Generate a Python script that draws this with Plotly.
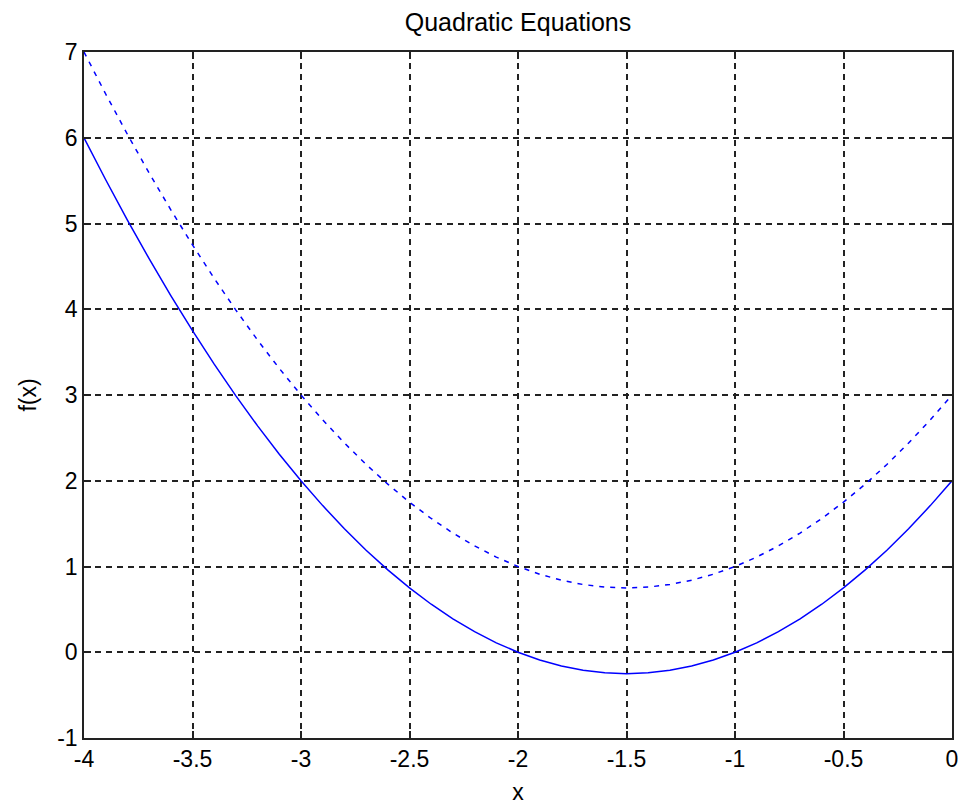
import plotly.graph_objects as go

x_vals = [-4.0, -3.9, -3.8, -3.7, -3.6, -3.5, -3.4, -3.3, -3.2, -3.1, -3.0,
          -2.9, -2.8, -2.7, -2.6, -2.5, -2.4, -2.3, -2.2, -2.1, -2.0,
          -1.9, -1.8, -1.7, -1.6, -1.5, -1.4, -1.3, -1.2, -1.1, -1.0,
          -0.9, -0.8, -0.7, -0.6, -0.5, -0.4, -0.3, -0.2, -0.1, 0.0]
f1_vals = [6.00, 5.51, 5.04, 4.59, 4.16, 3.75, 3.36, 2.99, 2.64, 2.31, 2.00,
           1.71, 1.44, 1.19, 0.96, 0.75, 0.56, 0.39, 0.24, 0.11, 0.00,
           -0.09, -0.16, -0.21, -0.24, -0.25, -0.24, -0.21, -0.16, -0.09, 0.00,
           0.11, 0.24, 0.39, 0.56, 0.75, 0.96, 1.19, 1.44, 1.71, 2.00]
f2_vals = [7.00, 6.51, 6.04, 5.59, 5.16, 4.75, 4.36, 3.99, 3.64, 3.31, 3.00,
           2.71, 2.44, 2.19, 1.96, 1.75, 1.56, 1.39, 1.24, 1.11, 1.00,
           0.91, 0.84, 0.79, 0.76, 0.75, 0.76, 0.79, 0.84, 0.91, 1.00,
           1.11, 1.24, 1.39, 1.56, 1.75, 1.96, 2.19, 2.44, 2.71, 3.00]
x_ticks = [-4, -3.5, -3, -2.5, -2, -1.5, -1, -0.5, 0]
x_tick_labels = ["-4", "-3.5", "-3", "-2.5", "-2", "-1.5", "-1", "-0.5", "0"]
y_ticks = [-1, 0, 1, 2, 3, 4, 5, 6, 7]
y_tick_labels = ["-1", "0", "1", "2", "3", "4", "5", "6", "7"]

FONT = "Liberation Sans, Arial, sans-serif"
BLUE = "#0000ff"

fig = go.Figure()
fig.add_trace(go.Scatter(x=x_vals, y=f1_vals, mode="lines",
                         line=dict(color=BLUE, width=1.5), showlegend=False))
fig.add_trace(go.Scatter(x=x_vals, y=f2_vals, mode="lines",
                         line=dict(color=BLUE, width=1.5, dash="5px,6px"), showlegend=False))

axis_common = dict(
    showline=True, linecolor="#222222", linewidth=1.5, mirror="ticks",
    ticks="inside", ticklen=7, tickcolor="#222222", tickwidth=1.5,
    showgrid=True, gridcolor="#222222", gridwidth=1.5, griddash="6px,5px",
    zeroline=False, tickfont=dict(family=FONT, size=23, color="black"),
)

fig.update_xaxes(range=[-4, 0], tickvals=x_ticks, ticktext=x_tick_labels,
                 title=dict(text="x", font=dict(family=FONT, size=23, color="black"), standoff=14),
                 **axis_common)
fig.update_yaxes(range=[-1, 7], tickvals=y_ticks, ticktext=y_tick_labels,
                 title=dict(text="f(x)", font=dict(family=FONT, size=23, color="black"), standoff=14),
                 **axis_common)

fig.update_layout(
    width=960, height=805,
    margin=dict(l=84, r=8, t=52, b=67, autoexpand=False),
    paper_bgcolor="white", plot_bgcolor="white",
    title=dict(text="Quadratic Equations", font=dict(family=FONT, size=25, color="black"),
               x=(84 + 952) / 2 / 960, xanchor="center",
               y=1 - 22 / 805, yanchor="middle", yref="container"),
)

fig.write_html("out.html")
